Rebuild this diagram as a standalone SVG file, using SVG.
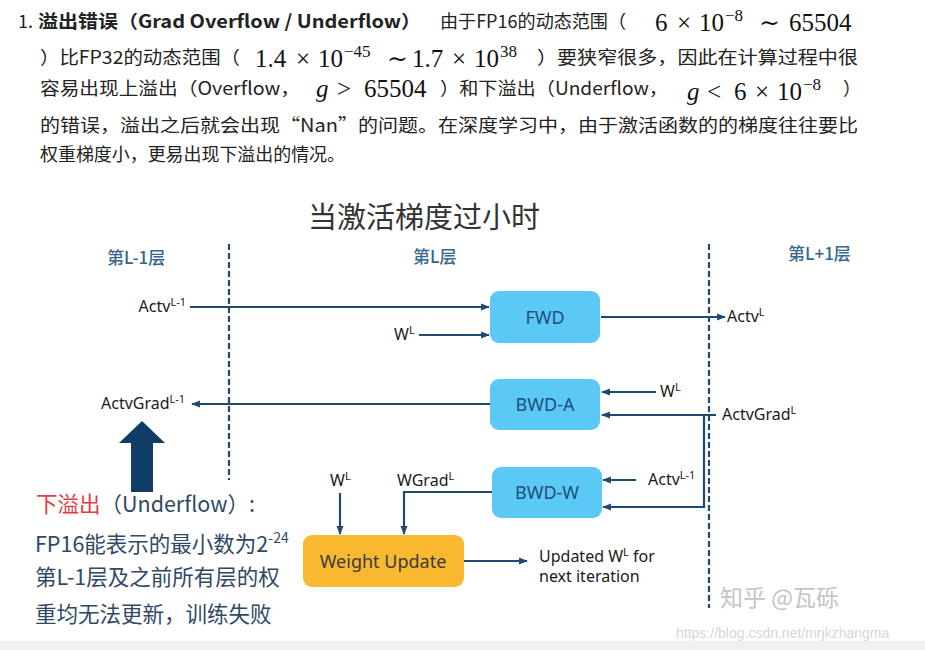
<svg xmlns="http://www.w3.org/2000/svg" width="925" height="650" viewBox="0 0 925 650">
<defs>
<style>
.p{font-family:"Noto Sans CJK SC","Liberation Sans",sans-serif;font-size:18px;fill:#222}
.m{font-family:"Liberation Serif","DejaVu Serif",serif;font-size:25px;fill:#111}
.ms{font-size:17px}
.lay{font-family:"Noto Sans CJK SC",sans-serif;font-size:17px;font-weight:500;fill:#35678f}
.lb{font-family:"Noto Sans","Open Sans",sans-serif;font-size:16px;fill:#1a1a1a}
.sp{font-size:11px}
.bx{fill:#5cc8f6}
.bt{font-family:"Noto Sans","Open Sans",sans-serif;font-size:18px;fill:#1e4f7c;text-anchor:middle}
.c{stroke:#1f4a73;stroke-width:2.2;fill:none}
.d{stroke:#1f4a73;stroke-width:2.2;stroke-dasharray:6,3;fill:none}
.n{font-family:"Noto Sans CJK SC",sans-serif;font-size:21.5px;fill:#2f4866}
</style>
<marker id="a" viewBox="0 0 10 10" refX="9" refY="5" markerWidth="4" markerHeight="4" orient="auto-start-reverse">
<path d="M0,1 L10,5 L0,9 z" fill="#1f4a73"/>
</marker>
</defs>
<rect width="925" height="650" fill="#fff"/>
<rect x="0" y="641" width="925" height="9" fill="#f0f0f0"/>

<!-- paragraph -->
<g id="paragraph">
<text class="p" x="18" y="28">1.</text>
<text class="p" x="38" y="28" font-weight="bold" textLength="383" lengthAdjust="spacingAndGlyphs">溢出错误（Grad Overflow / Underflow）</text>
<text class="p" x="440" y="28" textLength="186" lengthAdjust="spacingAndGlyphs">由于FP16的动态范围（</text>
<text class="m" y="31"><tspan x="655">6</tspan><tspan x="677">×</tspan><tspan x="699">10</tspan><tspan class="ms" x="725" y="21">−8</tspan><tspan x="759" y="31">∼</tspan><tspan x="789">65504</tspan></text>
<text class="p" x="40" y="64" textLength="200" lengthAdjust="spacingAndGlyphs">）比FP32的动态范围（</text>
<text class="m" y="67"><tspan x="255">1.4</tspan><tspan x="296">×</tspan><tspan x="318">10</tspan><tspan class="ms" x="344" y="57">−45</tspan><tspan x="387" y="67">∼</tspan><tspan x="412">1.7</tspan><tspan x="452">×</tspan><tspan x="474">10</tspan><tspan class="ms" x="500" y="57">38</tspan></text>
<text class="p" x="537" y="64" textLength="321" lengthAdjust="spacingAndGlyphs">）要狭窄很多，因此在计算过程中很</text>
<text class="p" x="40" y="95" textLength="260" lengthAdjust="spacingAndGlyphs">容易出现上溢出（Overflow，</text>
<text class="m" y="97"><tspan x="316" font-style="italic">g</tspan><tspan x="337">&gt;</tspan><tspan x="364">65504</tspan></text>
<text class="p" x="440" y="95" textLength="228" lengthAdjust="spacingAndGlyphs">）和下溢出（Underflow，</text>
<text class="m" y="100"><tspan x="687" font-style="italic">g</tspan><tspan x="707">&lt;</tspan><tspan x="734">6</tspan><tspan x="755">×</tspan><tspan x="777">10</tspan><tspan class="ms" x="803" y="90">−8</tspan></text>
<text class="p" x="843" y="95">）</text>
<text class="p" x="40" y="132" textLength="818" lengthAdjust="spacingAndGlyphs">的错误，溢出之后就会出现“Nan”的问题。在深度学习中，由于激活函数的的梯度往往要比</text>
<text class="p" x="40" y="161" textLength="305" lengthAdjust="spacingAndGlyphs">权重梯度小，更易出现下溢出的情况。</text>
</g>

<!-- title and layer labels -->
<g id="title">
<text x="424" y="228" font-family="Noto Sans CJK SC,sans-serif" font-size="29" fill="#333" text-anchor="middle">当激活梯度过小时</text>
</g>
<g id="layers">
<text class="lay" x="107" y="264">第L-1层</text>
<text class="lay" x="413" y="263">第L层</text>
<text class="lay" x="788" y="260">第L+1层</text>
<path class="d" d="M229,244 V480"/>
<path class="d" d="M709,244 V608"/>
</g>

<!-- connectors -->
<g id="connectors">
<path class="c" d="M190,307 H489" marker-end="url(#a)"/>
<path class="c" d="M419,335 H489" marker-end="url(#a)"/>
<path class="c" d="M601,317 H725" marker-end="url(#a)"/>
<path class="c" d="M656,392 H602" marker-end="url(#a)"/>
<path class="c" d="M716,415 H602" marker-end="url(#a)"/>
<path class="c" d="M704,415 V507 H603" marker-end="url(#a)"/>
<path class="c" d="M490,404 H192" marker-end="url(#a)"/>
<path class="c" d="M636,480 H603" marker-end="url(#a)"/>
<path class="c" d="M492,492 H404 V534" marker-end="url(#a)"/>
<path class="c" d="M340,493 V534" marker-end="url(#a)"/>
<path class="c" d="M464,561 H527" marker-end="url(#a)"/>
</g>

<!-- edge labels -->
<g id="labels">
<text class="lb" x="186" y="312" text-anchor="end">Actv<tspan class="sp" dy="-6">L-1</tspan></text>
<text class="lb" x="394" y="340">W<tspan class="sp" dy="-6">L</tspan></text>
<text class="lb" x="727" y="322">Actv<tspan class="sp" dy="-6">L</tspan></text>
<text class="lb" x="660" y="397">W<tspan class="sp" dy="-6">L</tspan></text>
<text class="lb" x="722" y="420">ActvGrad<tspan class="sp" dy="-6">L</tspan></text>
<text class="lb" x="101" y="409">ActvGrad<tspan class="sp" dy="-6">L-1</tspan></text>
<text class="lb" x="648" y="485">Actv<tspan class="sp" dy="-6">L-1</tspan></text>
<text class="lb" x="397" y="486">WGrad<tspan class="sp" dy="-6">L</tspan></text>
<text class="lb" x="330" y="486">W<tspan class="sp" dy="-6">L</tspan></text>
<text class="lb" x="539" y="562">Updated W<tspan class="sp" dy="-6">L</tspan><tspan dy="6"> for</tspan></text>
<text class="lb" x="539" y="582">next iteration</text>
</g>

<!-- nodes -->
<g id="fwd"><rect class="bx" x="490" y="291" width="110" height="52" rx="9"/><text class="bt" x="545" y="324">FWD</text></g>
<g id="bwd-a"><rect class="bx" x="490" y="379" width="110" height="51" rx="9"/><text class="bt" x="545" y="411">BWD-A</text></g>
<g id="bwd-w"><rect class="bx" x="492" y="467" width="110" height="51" rx="9"/><text class="bt" x="547" y="499">BWD-W</text></g>
<g id="weight-update"><rect x="303" y="535" width="161" height="52" rx="9" fill="#f8b830"/><text x="383" y="568" font-family="Noto Sans,Open Sans,sans-serif" font-size="18" fill="#3a3a3a" text-anchor="middle">Weight Update</text></g>

<!-- big arrow -->
<g id="big-arrow">
<path d="M142,421 L165,443 L153,443 L153,492 L131,492 L131,443 L119,443 z" fill="#0f3d68"/>
</g>

<!-- note -->
<g id="note">
<text class="n" x="36" y="512"><tspan fill="#e23b45">下溢出</tspan>（Underflow）:</text>
<text class="n" x="35" y="552">FP16能表示的最小数为2<tspan font-size="14" dy="-9">-24</tspan></text>
<text class="n" x="35" y="585">第L-1层及之前所有层的权</text>
<text class="n" x="35" y="622">重均无法更新，训练失败</text>
</g>

<!-- watermarks -->
<g id="watermark">
<text x="720" y="606" font-family="Noto Sans CJK SC,sans-serif" font-size="23" fill="#c4c4c4">知乎 @瓦砾</text>
<text x="676" y="638" font-family="Liberation Sans,sans-serif" font-size="14" fill="#d6d6d6">https://blog.csdn.net/mrjkzhangma</text>
</g>
</svg>
